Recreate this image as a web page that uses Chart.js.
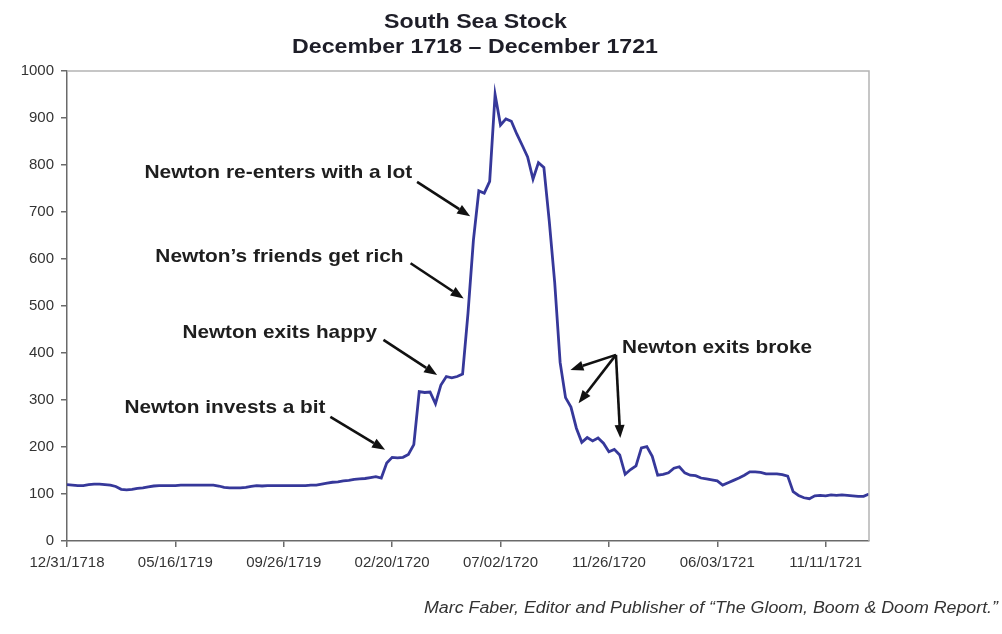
<!DOCTYPE html>
<html lang="en">
<head>
<meta charset="UTF-8">
<title>South Sea Stock</title>
<script src="https://cdn.jsdelivr.net/npm/chart.js@4"></script>
<style>
    body { margin: 0; background: #fff; }
    #wrap { width: 1002px; height: 634px; position: relative; }
</style>
</head>
<body>
<div id="wrap"><canvas id="grafico"></canvas></div>
<script>

    // x axis: one label every 20 observations
    var tickLabels = ['12/31/1718', '05/16/1719', '09/26/1719', '02/20/1720',
                      '07/02/1720', '11/26/1720', '06/03/1721', '11/11/1721'];
    var tickStep = 20;

    // share price
    var prices = [
        120, 119, 118, 118, 120, 121, 121, 120, 119, 116,
        110, 109, 110, 112, 113, 115, 117, 118, 118, 118,
        118, 119, 119, 119, 119, 119, 119, 119, 117, 114,
        113, 113, 113, 114, 116, 118, 117, 118, 118, 118,
        118, 118, 118, 118, 118, 119, 119, 121, 123, 125,
        126, 128, 129, 131, 132, 133, 135, 137, 134, 166,
        178, 177, 178, 184, 205, 318, 316, 317, 292, 332,
        350, 347, 350, 355, 485, 640, 745, 740, 765, 950,
        885, 898, 893, 866, 842, 817, 770, 805, 795, 680,
        550, 380, 305, 285, 240, 210, 220, 213, 219, 208,
        190, 195, 183, 142, 152, 160, 198, 201, 180, 140,
        142, 145, 155, 158, 145, 140, 139, 134, 132, 130,
        128, 119, 124, 129, 134, 140, 147, 147, 146, 143,
        143, 143, 141, 138, 105, 97, 92, 90, 96, 97,
        96, 98, 97, 98, 97, 96, 95, 95, 100
    ];

    var titleLines = ['South Sea Stock', 'December 1718 \u2013 December 1721'];
    var source = 'Marc Faber, Editor and Publisher of \u201cThe Gloom, Boom & Doom Report.\u201d';

    // annotations, in data units: text box [left, right, baseline], arrow tail, arrow heads
    var notes = [
        { text: 'Newton invests a bit',        box: [10.6, 47.7, 272], tail: [48.6, 264], heads: [[58.7, 194]] },
        { text: 'Newton exits happy',          box: [21.3, 57.2, 432], tail: [58.4, 428], heads: [[68.3, 353]] },
        { text: 'Newton\u2019s friends get rich', box: [16.3, 62.1, 594], tail: [63.4, 591], heads: [[73.2, 516]] },
        { text: 'Newton re-enters with a lot', box: [14.3, 63.7, 772], tail: [64.6, 764], heads: [[74.4, 691]] },
        { text: 'Newton exits broke',          box: [102.4, 137.5, 400], tail: [101.3, 396],
          heads: [[92.9, 364], [94.4, 293], [102.1, 219]] }
    ];

    var FONT = "'Liberation Sans', Arial, sans-serif";

    function fitText(ctx, text, left, right, baseline, font) {
        ctx.save();
        ctx.font = font;
        var w = ctx.measureText(text).width;
        ctx.translate(left, baseline);
        ctx.scale((right - left) / w, 1);
        ctx.textAlign = 'left';
        ctx.textBaseline = 'alphabetic';
        ctx.fillText(text, 0, 0);
        ctx.restore();
    }

    function arrow(ctx, x1, y1, x2, y2) {
        var ang = Math.atan2(y2 - y1, x2 - x1);
        var len = 13, half = 5;
        var bx = x2 - len * Math.cos(ang), by = y2 - len * Math.sin(ang);
        ctx.beginPath();
        ctx.moveTo(x1, y1);
        ctx.lineTo(bx, by);
        ctx.stroke();
        ctx.beginPath();
        ctx.moveTo(x2, y2);
        ctx.lineTo(bx + half * Math.sin(ang), by - half * Math.cos(ang));
        ctx.lineTo(bx - half * Math.sin(ang), by + half * Math.cos(ang));
        ctx.closePath();
        ctx.fill();
    }

    var decor = {
        id: 'decor',
        beforeDraw: function (chart) {
            var ctx = chart.ctx;
            ctx.save();
            ctx.fillStyle = '#fff';
            ctx.fillRect(0, 0, chart.width, chart.height);
            ctx.restore();
        },
        afterDraw: function (chart) {
            var ctx = chart.ctx;
            var a = chart.chartArea;
            var xs = chart.scales.x, ys = chart.scales.y;

            // light frame on top and right
            ctx.save();
            ctx.strokeStyle = '#b4b4b4';
            ctx.lineWidth = 1.5;
            ctx.beginPath();
            ctx.moveTo(a.left, a.top);
            ctx.lineTo(a.right, a.top);
            ctx.lineTo(a.right, a.bottom);
            ctx.stroke();

            ctx.fillStyle = '#1e1e28';
            fitText(ctx, titleLines[0], 384, 567, 28, 'bold 21px ' + FONT);
            fitText(ctx, titleLines[1], 292, 658, 53, 'bold 21px ' + FONT);

            ctx.fillStyle = '#333';
            fitText(ctx, source, 424, 998, 613, 'italic 16px ' + FONT);

            ctx.fillStyle = '#1e1e1e';
            ctx.strokeStyle = '#111';
            ctx.lineWidth = 2.6;
            notes.forEach(function (n) {
                fitText(ctx, n.text, xs.getPixelForValue(n.box[0]), xs.getPixelForValue(n.box[1]),
                        ys.getPixelForValue(n.box[2]), 'bold 19px ' + FONT);
                var tx = xs.getPixelForValue(n.tail[0]), ty = ys.getPixelForValue(n.tail[1]);
                ctx.fillStyle = '#111';
                n.heads.forEach(function (h) {
                    arrow(ctx, tx, ty, xs.getPixelForValue(h[0]), ys.getPixelForValue(h[1]));
                });
                ctx.fillStyle = '#1e1e1e';
            });
            ctx.restore();
        }
    };

    var pontos = prices.map(function (v, i) { return { x: i, y: v }; });

    var config = {
        type: 'line',
        data: {
            datasets: [{
                label: 'South Sea Stock',
                data: pontos,
                borderColor: '#36389a',
                borderWidth: 2.8,
                pointRadius: 0,
                tension: 0,
                fill: false
            }]
        },
        options: {
            responsive: true,
            maintainAspectRatio: false,
            animation: false,
            layout: { padding: { top: 71, right: 133, bottom: 0, left: 0 } },
            plugins: {
                legend: { display: false },
                title: { display: false },
                tooltip: { enabled: false }
            },
            scales: {
                x: {
                    type: 'linear',
                    min: 0,
                    max: prices.length - 1,
                    afterFit: function (scale) { scale.height = 93; },
                    border: { color: '#6a6a6a', width: 1.5 },
                    grid: { drawOnChartArea: false, drawTicks: true, tickLength: 6, color: '#6a6a6a', lineWidth: 1.5 },
                    ticks: {
                        stepSize: tickStep,
                        includeBounds: false,
                        autoSkip: false,
                        maxRotation: 0,
                        padding: 7,
                        color: '#333',
                        font: { family: FONT, size: 15 },
                        callback: function (v) { return tickLabels[v / tickStep]; }
                    }
                },
                y: {
                    min: 0,
                    max: 1000,
                    afterFit: function (scale) { scale.width = 67; },
                    border: { color: '#6a6a6a', width: 1.5 },
                    grid: { drawOnChartArea: false, drawTicks: true, tickLength: 6, color: '#6a6a6a', lineWidth: 1.5 },
                    ticks: {
                        stepSize: 100,
                        padding: 7,
                        color: '#333',
                        font: { family: FONT, size: 15 },
                        callback: function (v) { return String(v); }
                    }
                }
            }
        },
        plugins: [decor]
    };

    var myChart = new Chart(document.getElementById('grafico').getContext('2d'), config);
</script>
</body>
</html>
